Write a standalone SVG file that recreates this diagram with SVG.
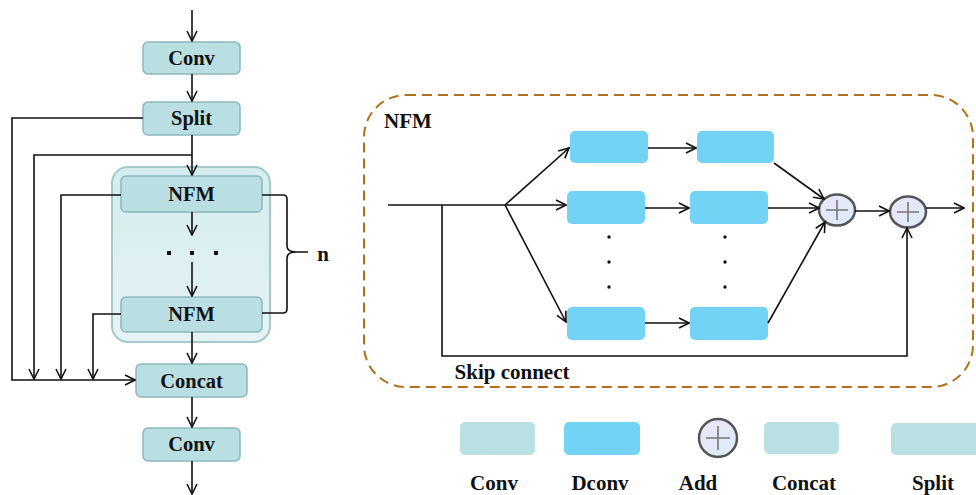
<svg xmlns="http://www.w3.org/2000/svg" width="976" height="495" viewBox="0 0 976 495">
  <defs>
    <marker id="arr" viewBox="0 0 12 12" refX="11" refY="6" markerWidth="12" markerHeight="12" markerUnits="userSpaceOnUse" orient="auto">
      <path d="M1,1 L11,6 L1,11" fill="none" stroke="#111" stroke-width="1.6"/>
    </marker>
    <linearGradient id="gCont" x1="0" y1="0" x2="0" y2="1">
      <stop offset="0" stop-color="#d4ecee"/>
      <stop offset="1" stop-color="#e6f3f5"/>
    </linearGradient>
    <linearGradient id="gAdd" x1="0" y1="0" x2="1" y2="1">
      <stop offset="0" stop-color="#ebe4f7"/>
      <stop offset="1" stop-color="#dcedf9"/>
    </linearGradient>
    <style>
      .box { fill: #b9dfe2; stroke: #8ab9bd; stroke-width: 1.5; }
      .dconv { fill: #72d3f5; }
      .leg { fill: #b9e0e3; }
      .lbl { font-family: "Liberation Serif", "Times New Roman", serif; font-weight: bold; font-size: 20.5px; fill: #111; text-anchor: middle; }
      .big { font-family: "Liberation Serif", "Times New Roman", serif; font-weight: bold; font-size: 21px; fill: #111; }
      .ln { fill: none; stroke: #111; stroke-width: 1.6; }
      .add { fill: url(#gAdd); stroke: #555; stroke-width: 2.5; }
      .plus { stroke: #777; stroke-width: 1.6; fill: none; }
      .dot { fill: #111; }
    </style>
  </defs>

  <!-- left pipeline: repeated NFM container -->
  <g id="nfm-stack">
    <rect x="112" y="167" width="158" height="175" rx="16" fill="url(#gCont)" stroke="#a5c8cb" stroke-width="2"/>
  </g>

  <g id="conv-in">
    <rect class="box" x="143" y="42" width="97" height="32" rx="5"/>
    <text class="lbl" x="191.5" y="65">Conv</text>
  </g>
  <g id="split">
    <rect class="box" x="143" y="102" width="97" height="33" rx="5"/>
    <text class="lbl" x="191.5" y="125">Split</text>
  </g>
  <g id="nfm-1">
    <rect class="box" x="121" y="176" width="141" height="36" rx="5"/>
    <text class="lbl" x="191.5" y="201">NFM</text>
  </g>
  <g id="nfm-n">
    <rect class="box" x="121" y="297" width="141" height="35" rx="5"/>
    <text class="lbl" x="191.5" y="321">NFM</text>
  </g>
  <g id="concat">
    <rect class="box" x="136" y="364" width="111" height="33" rx="5"/>
    <text class="lbl" x="191.5" y="388">Concat</text>
  </g>
  <g id="conv-out">
    <rect class="box" x="143" y="428" width="97" height="33" rx="5"/>
    <text class="lbl" x="191.5" y="451">Conv</text>
  </g>

  <g id="stack-dots">
    <rect class="dot" x="167" y="251" width="4" height="4"/>
    <rect class="dot" x="190" y="251" width="4" height="4"/>
    <rect class="dot" x="214" y="251" width="4" height="4"/>
  </g>

  <g id="brace">
    <path class="ln" d="M262,195 L283,195 Q287,195 287,199 L287,246 Q287,252 296,252 L308,252 M296,252 Q287,252 287,258 L287,309 Q287,313 283,313 L262,313"/>
    <text class="big" x="323" y="261" font-size="24" text-anchor="middle">n</text>
  </g>

  <!-- right: NFM detail -->
  <g id="nfm-detail">
    <rect x="364" y="95" width="609" height="292" rx="42" fill="none" stroke="#b0701c" stroke-width="2" stroke-dasharray="10,6"/>
    <text class="big" x="384" y="128">NFM</text>
  </g>

  <g id="dconv-1a"><rect class="dconv" x="570" y="131" width="78" height="32" rx="5"/></g>
  <g id="dconv-2a"><rect class="dconv" x="567" y="191" width="78" height="33" rx="5"/></g>
  <g id="dconv-3a"><rect class="dconv" x="567" y="307" width="78" height="33" rx="5"/></g>
  <g id="dconv-1b"><rect class="dconv" x="697" y="131" width="77" height="32" rx="5"/></g>
  <g id="dconv-2b"><rect class="dconv" x="690" y="191" width="78" height="33" rx="5"/></g>
  <g id="dconv-3b"><rect class="dconv" x="690" y="307" width="78" height="33" rx="5"/></g>

  <g id="branch-dots">
    <circle class="dot" cx="609" cy="237" r="1.7"/>
    <circle class="dot" cx="609" cy="262" r="1.7"/>
    <circle class="dot" cx="609" cy="287" r="1.7"/>
    <circle class="dot" cx="725" cy="237" r="1.7"/>
    <circle class="dot" cx="725" cy="262" r="1.7"/>
    <circle class="dot" cx="725" cy="287" r="1.7"/>
  </g>

  <g id="add-1">
    <ellipse class="add" cx="837" cy="210" rx="18" ry="15.5"/>
    <path class="plus" d="M826,210 H848 M837,200 V220"/>
  </g>
  <g id="add-2">
    <ellipse class="add" cx="908" cy="212" rx="18" ry="15.5"/>
    <path class="plus" d="M897,212 H919 M908,202 V222"/>
  </g>

  <g id="skip-label">
    <text class="big" x="512" y="379" text-anchor="middle">Skip connect</text>
  </g>

  <!-- connectors -->
  <g id="connectors">
    <!-- left pipeline -->
    <line class="ln" x1="192" y1="10" x2="192" y2="41" marker-end="url(#arr)"/>
    <line class="ln" x1="192" y1="74" x2="192" y2="101" marker-end="url(#arr)"/>
    <line class="ln" x1="192" y1="135" x2="192" y2="175" marker-end="url(#arr)"/>
    <line class="ln" x1="192" y1="212" x2="192" y2="235" marker-end="url(#arr)"/>
    <line class="ln" x1="192" y1="262" x2="192" y2="296" marker-end="url(#arr)"/>
    <line class="ln" x1="192" y1="332" x2="192" y2="363" marker-end="url(#arr)"/>
    <line class="ln" x1="192" y1="397" x2="192" y2="427" marker-end="url(#arr)"/>
    <line class="ln" x1="192" y1="461" x2="192" y2="494" marker-end="url(#arr)"/>
    <polyline class="ln" points="143,118 12,118 12,380 135,380" marker-end="url(#arr)"/>
    <polyline class="ln" points="192,155 34,155 34,379" marker-end="url(#arr)"/>
    <polyline class="ln" points="121,195 61,195 61,379" marker-end="url(#arr)"/>
    <polyline class="ln" points="121,314 93,314 93,379" marker-end="url(#arr)"/>

    <!-- NFM detail -->
    <line class="ln" x1="388" y1="205" x2="505" y2="205"/>
    <line class="ln" x1="505" y1="205" x2="569" y2="148" marker-end="url(#arr)"/>
    <line class="ln" x1="505" y1="205" x2="566" y2="205" marker-end="url(#arr)"/>
    <line class="ln" x1="505" y1="205" x2="566" y2="322" marker-end="url(#arr)"/>
    <line class="ln" x1="648" y1="148" x2="696" y2="148" marker-end="url(#arr)"/>
    <line class="ln" x1="645" y1="208" x2="689" y2="208" marker-end="url(#arr)"/>
    <line class="ln" x1="645" y1="323" x2="689" y2="323" marker-end="url(#arr)"/>
    <line class="ln" x1="774" y1="163" x2="824" y2="199" marker-end="url(#arr)"/>
    <line class="ln" x1="768" y1="208" x2="819" y2="208" marker-end="url(#arr)"/>
    <line class="ln" x1="768" y1="323" x2="825" y2="222" marker-end="url(#arr)"/>
    <line class="ln" x1="855" y1="211" x2="889" y2="211" marker-end="url(#arr)"/>
    <line class="ln" x1="926" y1="208" x2="964" y2="208" marker-end="url(#arr)"/>
    <polyline class="ln" points="442,205 442,356 907,356 907,228" marker-end="url(#arr)"/>
  </g>

  <!-- legend -->
  <g id="legend-conv">
    <rect class="leg" x="460" y="422" width="75" height="33" rx="5"/>
    <text class="big" x="494" y="490" text-anchor="middle">Conv</text>
  </g>
  <g id="legend-dconv">
    <rect class="dconv" x="564" y="422" width="76" height="33" rx="5"/>
    <text class="big" x="600" y="490" text-anchor="middle">Dconv</text>
  </g>
  <g id="legend-add">
    <circle class="add" cx="718" cy="438" r="19"/>
    <path class="plus" d="M706,438 H730 M718,426 V450"/>
    <text class="big" x="698" y="490" text-anchor="middle">Add</text>
  </g>
  <g id="legend-concat">
    <rect class="leg" x="764" y="422" width="75" height="32" rx="5"/>
    <text class="big" x="804" y="490" text-anchor="middle">Concat</text>
  </g>
  <g id="legend-split">
    <rect class="leg" x="891" y="423" width="90" height="32" rx="5"/>
    <text class="big" x="933" y="490" text-anchor="middle">Split</text>
  </g>
</svg>
